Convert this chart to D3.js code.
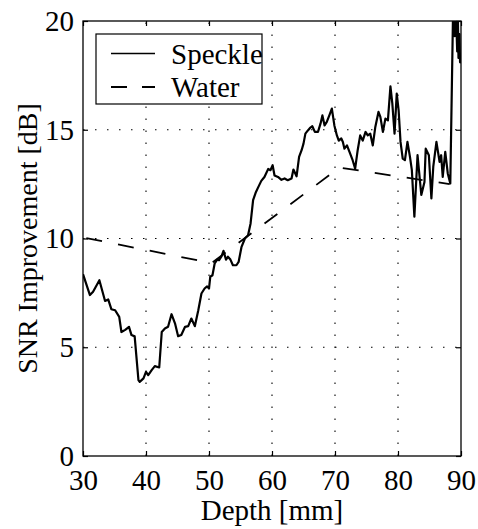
<!DOCTYPE html>
<html>
<head>
<meta charset="utf-8">
<script src="https://cdn.jsdelivr.net/npm/d3@7"></script>
<style>
  body { margin: 0; background: #fff; }
  svg { display: block; }
  svg text { font-family: 'Liberation Serif', 'DejaVu Serif', 'Times New Roman', Times, serif; }
</style>
</head>
<body>
<svg class="chart" width="478" height="529"></svg>
<script>
// speckle curve: [depth mm, SNR improvement dB]
const speckleDepth = [30.0, 31.1, 31.6, 32.6, 33.5, 34.0, 34.5, 35.1, 35.75, 36.1, 36.7, 37.3, 37.7, 38.2,
  38.8, 39.0, 39.6, 40.0, 40.35, 40.9, 41.4, 42.1, 42.5, 43.0, 43.5, 44.05, 44.6, 45.1, 45.6, 46.2,
  46.7, 47.2, 47.75, 48.3, 48.8, 49.3, 49.7, 50.0, 50.2, 50.55, 50.9, 51.3, 51.6, 52.0, 52.3, 52.7,
  53.0, 53.4, 53.8, 54.35, 54.7, 55.15, 55.7, 56.2, 56.6, 57.0, 57.4, 57.8, 58.3, 58.8, 59.4, 59.75,
  60.1, 60.4, 60.95, 61.5, 62.0, 62.5, 63.1, 63.4, 63.9, 64.3, 64.7, 65.0, 65.3, 65.7, 66.1, 66.4,
  66.8, 67.3, 67.7, 68.0, 68.35, 68.7, 69.1, 69.5, 69.9, 70.3, 70.6, 71.0, 71.25, 71.5, 71.9, 72.3,
  72.8, 73.2, 73.6, 74.0, 74.4, 74.85, 75.2, 75.6, 76.0, 76.4, 76.9, 77.2, 77.6, 78.0, 78.4, 78.8,
  79.1, 79.45, 79.8, 80.1, 80.4, 80.75, 81.1, 81.5, 81.9, 82.2, 82.6, 83.1, 83.7, 84.2, 84.4, 84.9,
  85.3, 85.6, 86.1, 86.6, 86.85, 87.1, 87.5, 87.9, 88.3, 88.75, 89.0, 89.2, 89.4, 89.5, 89.6, 89.75,
  89.85, 90.0];
const speckleSnr = [8.36, 7.4, 7.55, 8.08, 7.13, 7.2, 6.75, 6.7, 6.4, 5.7, 5.8, 5.94, 5.56, 5.5,
  3.49, 3.41, 3.57, 3.87, 3.72, 3.95, 4.13, 4.07, 5.7, 5.86, 5.94, 6.52, 6.1, 5.51, 5.56, 5.94,
  5.97, 6.32, 5.97, 6.7, 7.47, 7.7, 7.8, 7.7, 8.24, 8.31, 8.85, 9.03, 9.0, 9.19, 9.43, 9.03,
  9.16, 9.03, 8.77, 8.77, 8.92, 9.6, 10.0, 10.15, 10.69, 11.76, 12.1, 12.35, 12.65, 12.83, 13.2, 13.14,
  13.37, 12.9, 12.83, 12.7, 12.76, 12.68, 12.76, 13.17, 12.86, 13.75, 14.06, 14.36, 14.82, 14.97, 15.1, 15.16,
  14.9, 14.9, 15.28, 15.66, 15.2, 15.36, 15.66, 15.97, 15.2, 14.74, 14.5, 14.6, 14.44, 14.13, 14.28, 13.98,
  13.6, 13.21, 14.06, 14.74, 14.5, 14.9, 14.74, 14.82, 14.28, 15.13, 15.82, 15.59, 14.9, 15.51, 15.43, 17.0,
  16.2, 14.82, 16.66, 15.89, 14.44, 13.67, 13.6, 14.44, 13.75, 13.14, 11.0, 13.83, 12.0, 12.6, 14.13, 13.83,
  11.84, 13.3, 14.44, 13.52, 13.83, 12.83, 13.98, 12.99, 12.53, 20.6, 19.3, 20.4, 18.6, 20.3, 18.3, 19.4,
  18.1, 18.2];

// water curve
const waterDepth = [30.0, 50.4, 70.7, 88.2];
const waterSnr = [10.05, 8.87, 13.26, 12.5];

const xTicks = [30, 40, 50, 60, 70, 80, 90];
const yTicks = [0, 5, 10, 15, 20];
const legendNames = ['Speckle', 'Water'];

const serif = "'Liberation Serif', 'DejaVu Serif', 'Times New Roman', Times, serif";
const svg = d3.select('.chart').attr('font-family', serif);
const margin = { top: 21, right: 17, bottom: 73, left: 83 };
const width = +svg.attr('width') - margin.left - margin.right;
const height = +svg.attr('height') - margin.top - margin.bottom;
const fontSize = 29;

const x = d3.scaleLinear().domain([30, 90]).range([0, width]);
const y = d3.scaleLinear().domain([0, 20]).range([height, 0]);

const g = svg.append('g').attr('transform', `translate(${margin.left}, ${margin.top})`);

g.append('clipPath').attr('id', 'plot-clip')
  .append('rect').attr('width', width).attr('height', height);

// dotted grid
const grid = g.append('g').attr('class', 'grid')
  .attr('stroke', '#000').attr('stroke-width', 1.1).attr('stroke-dasharray', '1.5,10.5');
grid.selectAll('.vgrid')
  .data(xTicks.slice(1, -1))
  .enter().append('line')
  .attr('x1', d => x(d)).attr('x2', d => x(d))
  .attr('y1', height).attr('y2', 0);
grid.selectAll('.hgrid')
  .data(yTicks.slice(1, -1))
  .enter().append('line')
  .attr('x1', 0).attr('x2', width)
  .attr('y1', d => y(d)).attr('y2', d => y(d));

// curves
const speckle = speckleDepth.map((d, i) => ({ depth: d, snr: speckleSnr[i] }));
const water = waterDepth.map((d, i) => ({ depth: d, snr: waterSnr[i] }));
const line = d3.line().x(d => x(d.depth)).y(d => y(d.snr));

g.append('path')
  .datum(water)
  .attr('fill', 'none')
  .attr('stroke', '#000')
  .attr('stroke-width', 1.8)
  .attr('stroke-dasharray', '16,16.3')
  .attr('stroke-dashoffset', 28.9)
  .attr('d', line);

g.append('path')
  .datum(speckle)
  .attr('clip-path', 'url(#plot-clip)')
  .attr('fill', 'none')
  .attr('stroke', '#000')
  .attr('stroke-width', 2.2)
  .attr('stroke-linejoin', 'round')
  .attr('d', line);

// axes, ticks pointing inward on all sides
function styleAxis(sel) {
  sel.attr('font-family', serif).attr('font-size', fontSize);
  sel.select('.domain').remove();
  sel.selectAll('.tick line').attr('stroke', '#000').attr('stroke-width', 1.2);
  sel.selectAll('text').attr('fill', '#000');
}

g.append('g')
  .attr('transform', `translate(0, ${height})`)
  .call(d3.axisBottom(x).tickValues(xTicks).tickSize(-5).tickPadding(13))
  .call(styleAxis);
g.append('g')
  .call(d3.axisTop(x).tickValues(xTicks).tickSize(-5).tickFormat(''))
  .call(styleAxis);
g.append('g')
  .call(d3.axisLeft(y).tickValues(yTicks).tickSize(-5).tickPadding(9))
  .call(styleAxis);
g.append('g')
  .attr('transform', `translate(${width}, 0)`)
  .call(d3.axisRight(y).tickValues(yTicks).tickSize(-5).tickFormat(''))
  .call(styleAxis);

g.append('rect')
  .attr('width', width).attr('height', height)
  .attr('fill', 'none').attr('stroke', '#000').attr('stroke-width', 1.3);

// axis labels
svg.append('text')
  .attr('x', margin.left + width / 2)
  .attr('y', 520)
  .attr('text-anchor', 'middle')
  .attr('font-size', fontSize)
  .text('Depth [mm]');

svg.append('text')
  .attr('transform', `translate(37, ${margin.top + height / 2}) rotate(-90)`)
  .attr('text-anchor', 'middle')
  .attr('font-size', 28)
  .text('SNR Improvement [dB]');

// legend
const legend = svg.append('g').attr('transform', 'translate(96, 34)');
legend.append('rect')
  .attr('width', 166).attr('height', 70)
  .attr('fill', '#fff').attr('stroke', '#000').attr('stroke-width', 1.2);
const items = legend.selectAll('.item')
  .data(legendNames)
  .enter().append('g')
  .attr('transform', (d, i) => `translate(0, ${19.5 + i * 33.5})`);
items.append('line')
  .attr('x1', 15).attr('x2', 59)
  .attr('stroke', '#000')
  .attr('stroke-width', (d, i) => i ? 1.8 : 1.5)
  .attr('stroke-dasharray', (d, i) => i ? '16,15' : null);
items.append('text')
  .attr('x', 75).attr('y', 10)
  .attr('font-size', fontSize)
  .text(d => d);
</script>
</body>
</html>
